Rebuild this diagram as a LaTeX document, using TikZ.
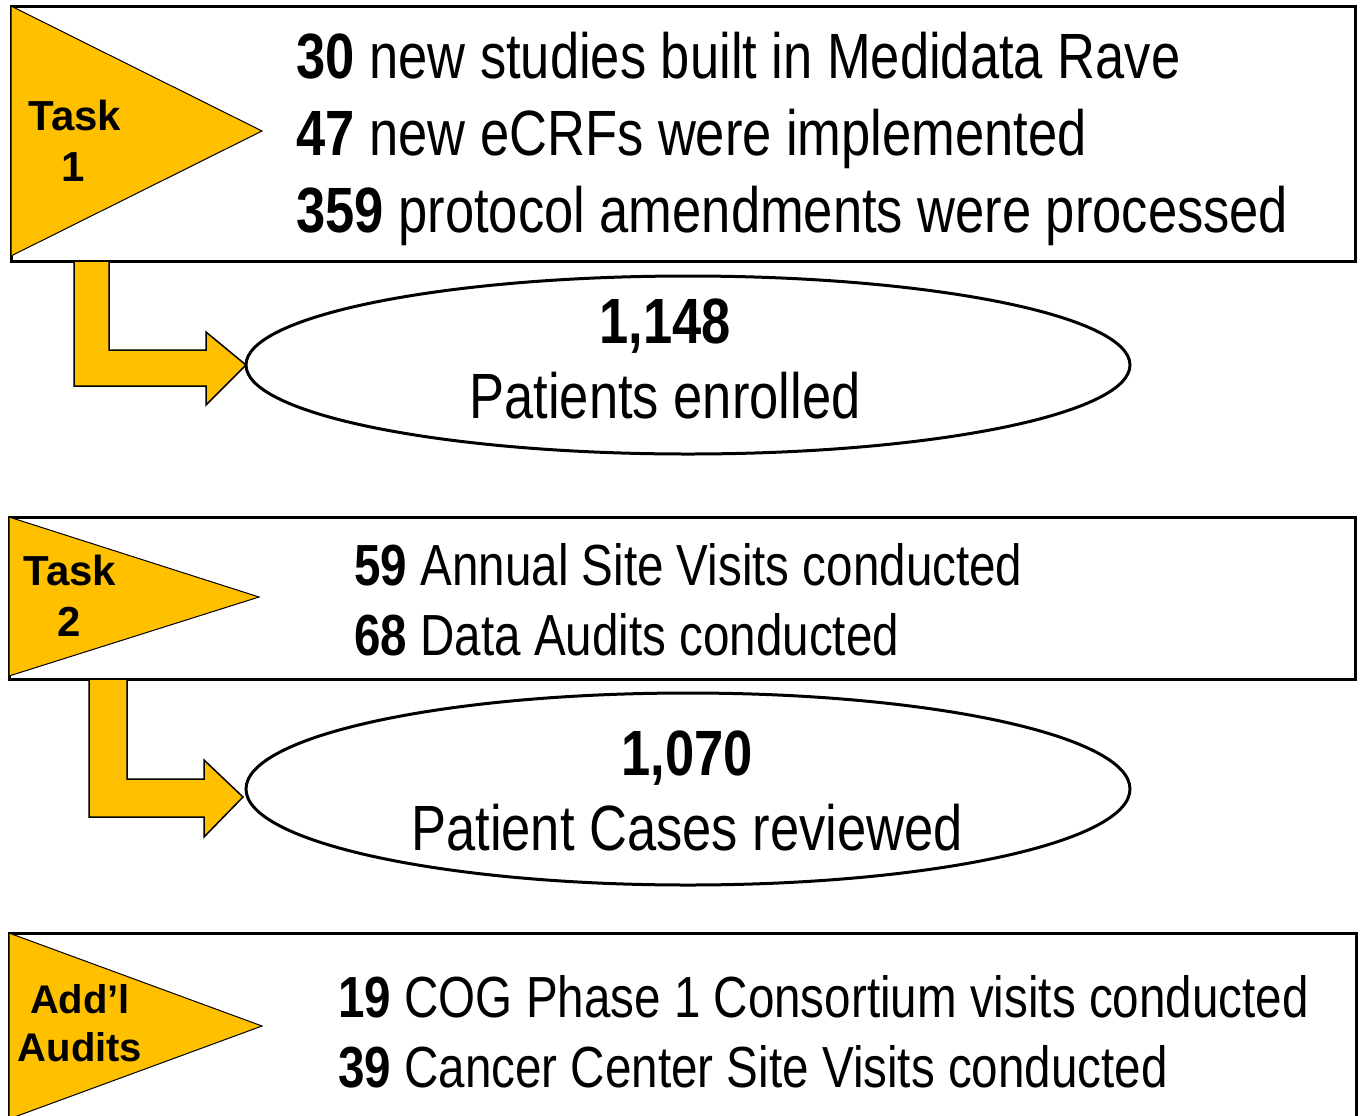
\documentclass[tikz,border=0pt]{standalone}
\usepackage{fontspec}
\setmainfont{Liberation Sans}
\newfontfamily\narrowfont[FakeStretch=0.82]{Liberation Sans}
\usepackage{xcolor}
\usetikzlibrary{calc,positioning}
\definecolor{taskgold}{HTML}{FFC000}

\begin{document}
\begin{tikzpicture}[x=0.5pt,y=-0.5pt,line join=miter,
  infobox/.style={draw=black,line width=1.5pt},
  pennant/.style={draw=black,fill=taskgold,line width=0.5pt},
  bentarrow/.style={draw=black,fill=taskgold,line width=0.75pt},
  tasklabel/.style={font=\fontsize{21}{25.5}\selectfont\bfseries,anchor=base,inner sep=0pt},
  statline/.style={font=\fontsize{32}{38.5}\selectfont\narrowfont,anchor=base west,inner sep=0pt},
  smallstat/.style={statline,font=\fontsize{29}{35}\selectfont\narrowfont},
  resultline/.style={font=\fontsize{32}{38.5}\selectfont\narrowfont,anchor=base,inner sep=0pt}]
\useasboundingbox (0,0) rectangle (1360,1115);
\clip (0,0) rectangle (1360,1115);
% Task 1
\draw[infobox] (11,6) rectangle (1355,261);
\draw[pennant] (11,6) -- (262,131) -- (11,256) -- cycle;
\node[tasklabel] (t1a) at (75,130) {Task};
\node[tasklabel] (t1b) at (73,181) {1};
\node[statline] (s11) at (296,78) {\textbf{30} new studies built in Medidata Rave};
\node[statline] (s12) at (296,155) {\textbf{47} new eCRFs were implemented};
\node[statline] (s13) at (296,232) {\textbf{359} protocol amendments were processed};
\draw[line width=1.5pt] (688,365) ellipse [x radius=442,y radius=89];
\coordinate (e1) at (246,365);
\node[resultline] (r1a) at (665,343) {\textbf{1,148}};
\node[resultline] (r1b) at (665,418) {Patients enrolled};
\draw[bentarrow] (74,261) -- (109,261) -- (109,350) -- (206,350) -- (206,332)
  -- (e1) -- (206,405) -- (206,386) -- (74,386) -- cycle;
% Task 2
\draw[infobox] (9,517) rectangle (1355,679);
\draw[pennant] (9,517) -- (259,597) -- (9,676) -- cycle;
\node[tasklabel] (t2a) at (70,585) {Task};
\node[tasklabel] (t2b) at (69,636) {2};
\node[smallstat] (s21) at (354,585) {\textbf{59} Annual Site Visits conducted};
\node[smallstat] (s22) at (354,655) {\textbf{68} Data Audits conducted};
\draw[line width=1.5pt] (688,789) ellipse [x radius=442,y radius=96];
\coordinate (e2) at (243,797);
\node[resultline] (r2a) at (687,775) {\textbf{1,070}};
\node[resultline] (r2b) at (687,850) {Patient Cases reviewed};
\draw[bentarrow] (89,679) -- (127,679) -- (127,779) -- (204,779) -- (204,760)
  -- (e2) -- (204,837) -- (204,817) -- (89,817) -- cycle;
% additional audits
\draw[infobox] (9,933) rectangle (1356,1130);
\draw[pennant] (9,933) -- (262,1026) -- (9,1119) -- cycle;
\node[tasklabel,font=\fontsize{20}{24}\selectfont\bfseries] (t3a) at (80,1013) {Add’l};
\node[tasklabel,font=\fontsize{20}{24}\selectfont\bfseries] (t3b) at (80,1061) {Audits};
\node[smallstat] (s31) at (338,1017) {\textbf{19} COG Phase 1 Consortium visits conducted};
\node[smallstat] (s32) at (338,1087) {\textbf{39} Cancer Center Site Visits conducted};
\end{tikzpicture}
\end{document}
